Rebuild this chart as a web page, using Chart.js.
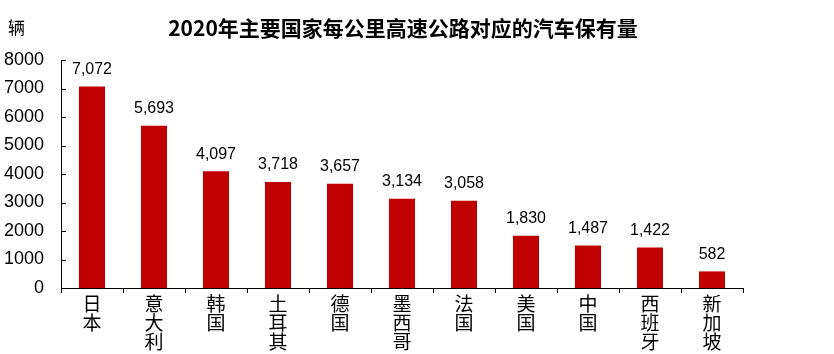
<!DOCTYPE html>
<html><head><meta charset="utf-8">
<script src="https://cdn.jsdelivr.net/npm/chart.js@4/dist/chart.umd.min.js"></script>
<style>html,body{margin:0;padding:0;background:#fff}#wrap{width:834px;height:354px}</style>
</head><body><div id="wrap"><canvas id="c" width="834" height="354"></canvas></div>
<script>
const categories = ['日本','意大利','韩国','土耳其','德国','墨西哥','法国','美国','中国','西班牙','新加坡'];
const values = [7072,5693,4097,3718,3657,3134,3058,1830,1487,1422,582];
const yTicks = [0,1000,2000,3000,4000,5000,6000,7000,8000];
const titleText = '2020年主要国家每公里高速公路对应的汽车保有量';
const unitText = '辆';

const cjk = '"Noto Sans CJK SC", "Noto Sans", sans-serif';
const sans = '"Liberation Sans", Arial, sans-serif';

const extras = {
  id: 'extras',
  afterDatasetsDraw(chart) {
    const ctx = chart.ctx;
    const y = chart.scales.y, x = chart.scales.x;
    ctx.save();
    // data labels
    ctx.font = '16px ' + sans;
    ctx.fillStyle = '#000';
    ctx.textAlign = 'center';
    ctx.textBaseline = 'bottom';
    const meta = chart.getDatasetMeta(0);
    meta.data.forEach((bar, i) => {
      ctx.fillText(values[i].toLocaleString('en-US'), bar.x, bar.y - 9);
    });
    // inward y ticks
    ctx.strokeStyle = '#000';
    ctx.lineWidth = 1;
    yTicks.forEach(v => {
      const py = Math.round(y.getPixelForValue(v)) + 0.5;
      ctx.beginPath();
      ctx.moveTo(x.left, py);
      ctx.lineTo(x.left + 5, py);
      ctx.stroke();
    });
    // title
    ctx.font = 'bold 21px ' + cjk;
    ctx.textAlign = 'center';
    ctx.textBaseline = 'middle';
    ctx.fillText(titleText, 403, 28);
    // unit
    ctx.font = '17px ' + cjk;
    ctx.textAlign = 'left';
    ctx.fillText(unitText, 8, 28);
    ctx.restore();
  }
};

new Chart(document.getElementById('c'), {
  type: 'bar',
  data: {
    labels: categories.map(s => s.split('')),
    datasets: [{
      data: values,
      backgroundColor: '#C00000',
      barPercentage: 0.42,
      categoryPercentage: 1.0
    }]
  },
  options: {
    responsive: false,
    animation: false,
    layout: { padding: { left: 0, right: 91, top: 60, bottom: 0 } },
    plugins: {
      legend: { display: false },
      tooltip: { enabled: false },
      title: { display: false }
    },
    scales: {
      x: {
        offset: true,
        grid: { display: true, offset: true, drawOnChartArea: false, drawTicks: true, tickLength: 5, color: '#000' },
        border: { display: true, color: '#000', width: 1 },
        ticks: { color: '#000', font: { family: cjk, size: 19, lineHeight: 1.0 }, padding: 1, maxRotation: 0, autoSkip: false },
        afterFit(s) { s.height = 66; }
      },
      y: {
        min: 0, max: 8000,
        afterBuildTicks(s) { s.ticks = yTicks.map(v => ({ value: v })); },
        grid: { display: false, drawTicks: false },
        border: { display: true, color: '#000', width: 1 },
        ticks: { color: '#000', font: { family: sans, size: 18 }, padding: 17, callback: v => String(v) },
        afterFit(s) { s.width = 61; }
      }
    }
  },
  plugins: [extras]
});
</script></body></html>
